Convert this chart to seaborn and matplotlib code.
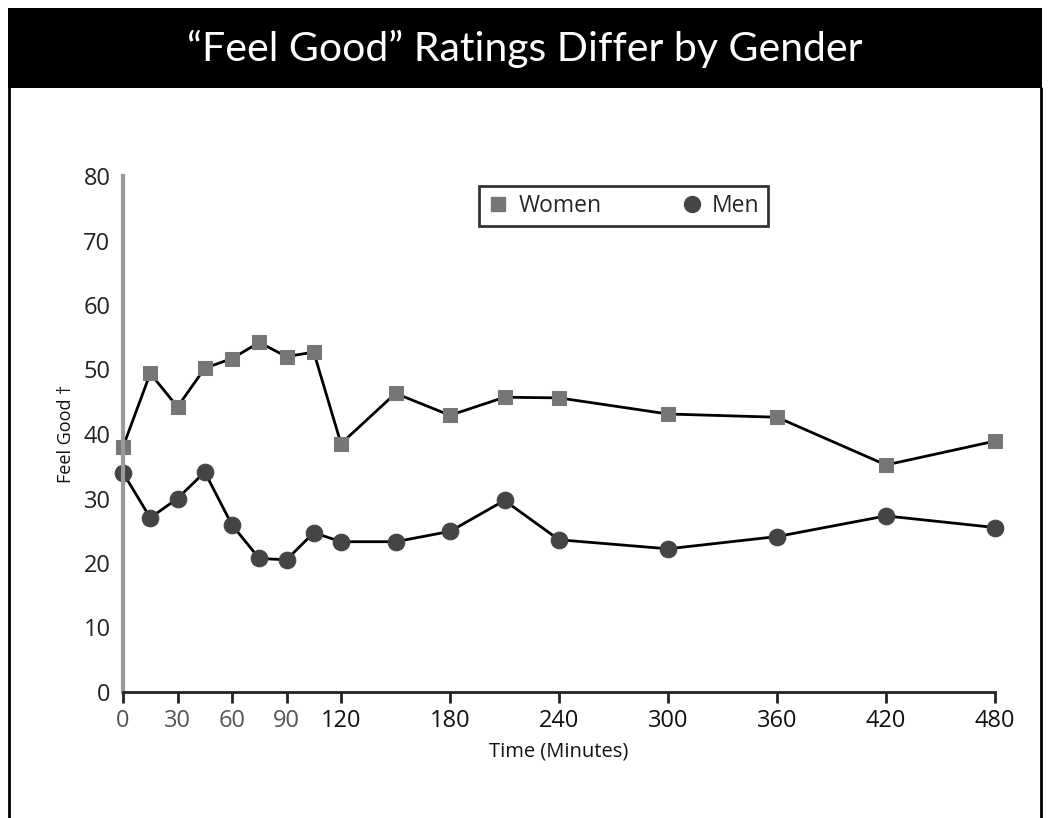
import matplotlib
matplotlib.use("Agg")
import matplotlib.pyplot as plt
from matplotlib.lines import Line2D
from matplotlib.patches import Rectangle
import seaborn as sns
import pandas as pd

times = [0, 15, 30, 45, 60, 75, 90, 105, 120, 150, 180, 210, 240, 300, 360, 420, 480]
women = [38.0, 49.4, 44.2, 50.2, 51.7, 54.2, 52.0, 52.7, 38.5, 46.3, 42.9, 45.7, 45.6, 43.1, 42.6, 35.2, 38.9]
men = [34.0, 27.0, 30.0, 34.1, 25.9, 20.7, 20.5, 24.7, 23.3, 23.3, 24.9, 29.7, 23.6, 22.2, 24.1, 27.3, 25.5]
xticks = [0, 30, 60, 90, 120, 180, 240, 300, 360, 420, 480]
yticks = [0, 10, 20, 30, 40, 50, 60, 70, 80]
title = "\u201cFeel Good\u201d Ratings Differ by Gender"

sns.set_theme(style="white")
plt.rcParams['font.family'] = ['Open Sans', 'DejaVu Sans']

df = pd.DataFrame({"Time": times, "Women": women, "Men": men})

fig = plt.figure(figsize=(10.5, 8.18), dpi=100)
W, H = 1050, 818

# title bar and frame
fig.patches.append(Rectangle((8 / W, 1 - 88 / H), (1042 - 8) / W, 80 / H,
                             transform=fig.transFigure, facecolor="black", edgecolor="none"))
fig.lines.append(Line2D([9 / W, 9 / W], [0, 1 - 88 / H], transform=fig.transFigure, color="black", lw=2))
fig.lines.append(Line2D([1041 / W, 1041 / W], [0, 1 - 88 / H], transform=fig.transFigure, color="black", lw=2))
fig.text(0.5, 1 - 49 / H, title, color="white", ha="center", va="center",
         fontsize=29.5, family=["Lato", "DejaVu Sans"], fontweight="normal")

ax = fig.add_axes([123 / W, 1 - 692 / H, (995 - 123) / W, (692 - 176) / H])

sns.lineplot(data=df, x="Time", y="Women", ax=ax, color="black", lw=2, marker="s",
             markersize=10.5, markerfacecolor="#767676", markeredgecolor="#767676", clip_on=False)
sns.lineplot(data=df, x="Time", y="Men", ax=ax, color="black", lw=2, marker="o",
             markersize=12, markerfacecolor="#444444", markeredgecolor="#444444", clip_on=False)

ax.set_xlim(0, 480)
ax.set_ylim(0, 80)
ax.set_xticks(xticks)
ax.set_yticks(yticks)
ax.set_xticklabels([str(t) for t in xticks], fontsize=17)
ax.set_yticklabels([str(t) for t in yticks], fontsize=17, color="#222222")
for lbl, t in zip(ax.get_xticklabels(), xticks):
    lbl.set_color("#555555" if t < 120 else "#111111")

for s in ["top", "right"]:
    ax.spines[s].set_visible(False)
ax.spines["left"].set_color("#9a9a9a")
ax.spines["left"].set_linewidth(3)
ax.spines["bottom"].set_color("#222222")
ax.spines["bottom"].set_linewidth(2)
ax.tick_params(axis="x", direction="out", length=8, width=2, color="#222222", bottom=True, pad=4)
ax.tick_params(axis="y", length=0, pad=9)

ax.set_xlabel("Time (Minutes)", fontsize=14.5, color="#111111", labelpad=6)
ax.set_ylabel("Feel Good \u2020", fontsize=13, color="#111111", labelpad=6)

handles = [
    Line2D([], [], ls="none", marker="s", markersize=10, color="#767676"),
    Line2D([], [], ls="none", marker="o", markersize=11.5, color="#444444"),
]
leg = fig.legend(handles, ["Women", "Men"], ncol=2, loc="upper left",
                 bbox_to_anchor=(479 / W, 1 - 186 / H), bbox_transform=fig.transFigure,
                 frameon=True, fancybox=False, edgecolor="black", fontsize=16.5,
                 handlelength=1.0, handletextpad=0.4, columnspacing=3.4, borderpad=0.35,
                 borderaxespad=0)
leg.get_frame().set_linewidth(2)

fig.savefig("out.png", dpi=100, facecolor="white")
